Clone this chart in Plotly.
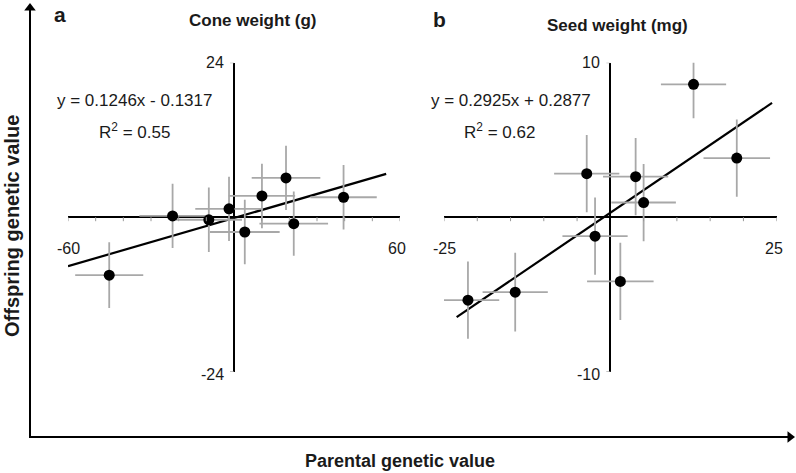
import plotly.graph_objects as go

W, H = 796, 473

# ---- data ----
a_x    = [-45.1, -22.2, -9.1, -1.8, 3.9, 10.1, 18.8, 21.6, 39.6]
a_y    = [-9.0, 0.2, -0.4, 1.3, -2.3, 3.3, 6.1, -1.0, 3.1]
a_xerr = [12.3, 12.0, 12.0, 12.2, 12.6, 12.0, 12.4, 12.4, 12.0]
a_yerr = [5.1, 5.0, 5.0, 5.0, 5.0, 5.0, 5.0, 5.0, 5.0]
a_slope, a_intercept = 0.1246, -0.1317
a_fit_x = [-60, 55]
a_xlim = [-60, 60]
a_ylim = [-24, 24]
a_xticks = [-60, -50, -40, -30, -20, -10, 10, 20, 30, 40, 50, 60]

b_x    = [12.5, 19.0, -3.55, 3.8, 5.0, -2.3, 1.5, -14.3, -21.4]
b_y    = [8.6, 3.83, 2.82, 2.62, 0.95, -1.23, -4.16, -4.85, -5.37]
b_xerr = [4.9, 5.0, 4.9, 4.9, 4.85, 4.9, 5.0, 4.9, 4.7]
b_yerr = [2.2, 2.5, 2.5, 2.5, 2.5, 2.5, 2.5, 2.55, 2.5]
b_slope, b_intercept = 0.2925, 0.2877
b_fit_x = [-23.1, 24.3]
b_xlim = [-25, 25]
b_ylim = [-10, 10]
b_xticks = [-25, -20, -15, -10, -5, 5, 10, 15, 20, 25]

panel_titles = ["Cone weight (g)", "Seed weight (mg)"]
panel_letters = ["a", "b"]
eq_texts = ["y = 0.1246x - 0.1317", "y = 0.2925x + 0.2877"]
r2_texts = ["R<sup>2</sup> = 0.55", "R<sup>2</sup> = 0.62"]
x_label = "Parental genetic value"
y_label = "Offspring genetic value"

FONT = "Liberation Sans, Arial, Helvetica, sans-serif"
ERR_COLOR = "#a8a8a8"


def px(x):
    return x / W


def py(y):
    return 1 - y / H


fig = go.Figure()

panels = [
    dict(x=a_x, y=a_y, xe=a_xerr, ye=a_yerr, m=a_slope, c=a_intercept, fx=a_fit_x,
         xlim=a_xlim, ylim=a_ylim, xt=a_xticks, xa="x", ya="y"),
    dict(x=b_x, y=b_y, xe=b_xerr, ye=b_yerr, m=b_slope, c=b_intercept, fx=b_fit_x,
         xlim=b_xlim, ylim=b_ylim, xt=b_xticks, xa="x2", ya="y2"),
]

shapes = []
annotations = []

for p in panels:
    fit_y = [p["m"] * v + p["c"] for v in p["fx"]]
    fig.add_trace(go.Scatter(
        x=p["fx"], y=fit_y, mode="lines", line=dict(color="black", width=2.2),
        xaxis=p["xa"], yaxis=p["ya"], showlegend=False, hoverinfo="skip"))
    fig.add_trace(go.Scatter(
        x=p["x"], y=p["y"], mode="markers",
        marker=dict(color="black", size=11),
        error_x=dict(type="data", array=p["xe"], color=ERR_COLOR, thickness=1.8, width=0),
        error_y=dict(type="data", array=p["ye"], color=ERR_COLOR, thickness=1.8, width=0),
        xaxis=p["xa"], yaxis=p["ya"], showlegend=False, cliponaxis=False))
    # small tick marks on the horizontal zero axis
    for t in p["xt"]:
        shapes.append(dict(type="line", xref=p["xa"], yref=p["ya"], x0=t, x1=t,
                           ysizemode="pixel", yanchor=0, y0=0, y1=-4,
                           line=dict(color="#999999", width=1)))
    # small ticks at the ends of the vertical axis
    for t in p["ylim"]:
        shapes.append(dict(type="line", xref=p["xa"], yref=p["ya"], y0=t, y1=t,
                           xsizemode="pixel", xanchor=0, x0=0, x1=-4,
                           line=dict(color="#999999", width=1)))
    xa_ref, ya_ref = p["xa"], p["ya"]
    annotations.append(dict(x=0, y=p["ylim"][1], xref=xa_ref, yref=ya_ref,
                            text=str(p["ylim"][1]), showarrow=False, xanchor="right",
                            yanchor="middle", xshift=-8, font=dict(size=16)))
    annotations.append(dict(x=0, y=p["ylim"][0], xref=xa_ref, yref=ya_ref,
                            text=str(p["ylim"][0]), showarrow=False, xanchor="right",
                            yanchor="middle", xshift=-8, yshift=-3, font=dict(size=16)))
    annotations.append(dict(x=p["xlim"][0], y=0, xref=xa_ref, yref=ya_ref,
                            text=str(p["xlim"][0]), showarrow=False, xanchor="center",
                            yanchor="middle", yshift=-31, font=dict(size=16)))
    annotations.append(dict(x=p["xlim"][1], y=0, xref=xa_ref, yref=ya_ref,
                            text=str(p["xlim"][1]), showarrow=False, xanchor="center",
                            yanchor="middle", xshift=-3, yshift=-31, font=dict(size=16)))

# equations and R^2
eq_pos = [(134, 101), (511, 101)]
r2_pos = [(134, 131), (499, 131)]
for i in range(2):
    annotations.append(dict(x=px(eq_pos[i][0]), y=py(eq_pos[i][1]), xref="paper", yref="paper",
                            xanchor="center", yanchor="middle",
                            text=eq_texts[i], showarrow=False, font=dict(size=17)))
    annotations.append(dict(x=px(r2_pos[i][0]), y=py(r2_pos[i][1]), xref="paper", yref="paper",
                            xanchor="center", yanchor="middle",
                            text=r2_texts[i], showarrow=False, font=dict(size=17)))

# panel letters and titles
letter_pos = [(60, 14), (440, 19)]
title_pos = [(252, 20), (617, 25)]
for i in range(2):
    annotations.append(dict(x=px(letter_pos[i][0]), y=py(letter_pos[i][1]), xref="paper", yref="paper",
                            xanchor="center", yanchor="middle",
                            text="<b>%s</b>" % panel_letters[i], showarrow=False,
                            font=dict(size=21)))
    annotations.append(dict(x=px(title_pos[i][0]), y=py(title_pos[i][1]), xref="paper", yref="paper",
                            xanchor="center", yanchor="middle",
                            text="<b>%s</b>" % panel_titles[i], showarrow=False,
                            font=dict(size=17)))

annotations.append(dict(x=px(400), y=py(461), xref="paper", yref="paper",
                        xanchor="center", yanchor="middle",
                        text="<b>%s</b>" % x_label, showarrow=False, font=dict(size=18)))
annotations.append(dict(x=px(12), y=py(226), xref="paper", yref="paper",
                        xanchor="center", yanchor="middle",
                        text="<b>%s</b>" % y_label, showarrow=False, textangle=-90,
                        font=dict(size=20)))

# outer axis arrows on a full-page overlay axis (pixel units)
frame_x = [30, 30, 788]
frame_y = [9, 437, 437]
fig.add_trace(go.Scatter(x=frame_x, y=frame_y, mode="lines",
                         line=dict(color="black", width=2), xaxis="x3", yaxis="y3",
                         showlegend=False, hoverinfo="skip", cliponaxis=False))
fig.add_trace(go.Scatter(x=[30, 790], y=[8, 437], mode="markers",
                         marker=dict(symbol=["triangle-up", "triangle-right"], size=10,
                                     color="black"),
                         xaxis="x3", yaxis="y3", showlegend=False, hoverinfo="skip",
                         cliponaxis=False))

ydom = [py(371.7), py(62.7)]
axis_common = dict(showgrid=False, showticklabels=False, ticks="", showline=False,
                   zeroline=True, zerolinecolor="black", zerolinewidth=2, fixedrange=True)

fig.update_layout(
    width=W, height=H,
    margin=dict(l=0, r=0, t=0, b=0),
    paper_bgcolor="white", plot_bgcolor="rgba(0,0,0,0)",
    font=dict(family=FONT, color="#1a1a1a", size=15),
    xaxis=dict(domain=[px(68), px(400)], range=a_xlim, anchor="y", **axis_common),
    yaxis=dict(domain=ydom, range=a_ylim, anchor="x", **axis_common),
    xaxis2=dict(domain=[px(444), px(776.7)], range=b_xlim, anchor="y2", **axis_common),
    yaxis2=dict(domain=ydom, range=b_ylim, anchor="x2", **axis_common),
    xaxis3=dict(domain=[0, 1], range=[0, W], anchor="y3", visible=False, fixedrange=True),
    yaxis3=dict(domain=[0, 1], range=[H, 0], anchor="x3", visible=False, fixedrange=True),
    shapes=shapes,
    annotations=annotations,
    showlegend=False,
)

fig.write_html("out.html", config={"displayModeBar": False},
               post_script="document.body.style.margin='0';")
